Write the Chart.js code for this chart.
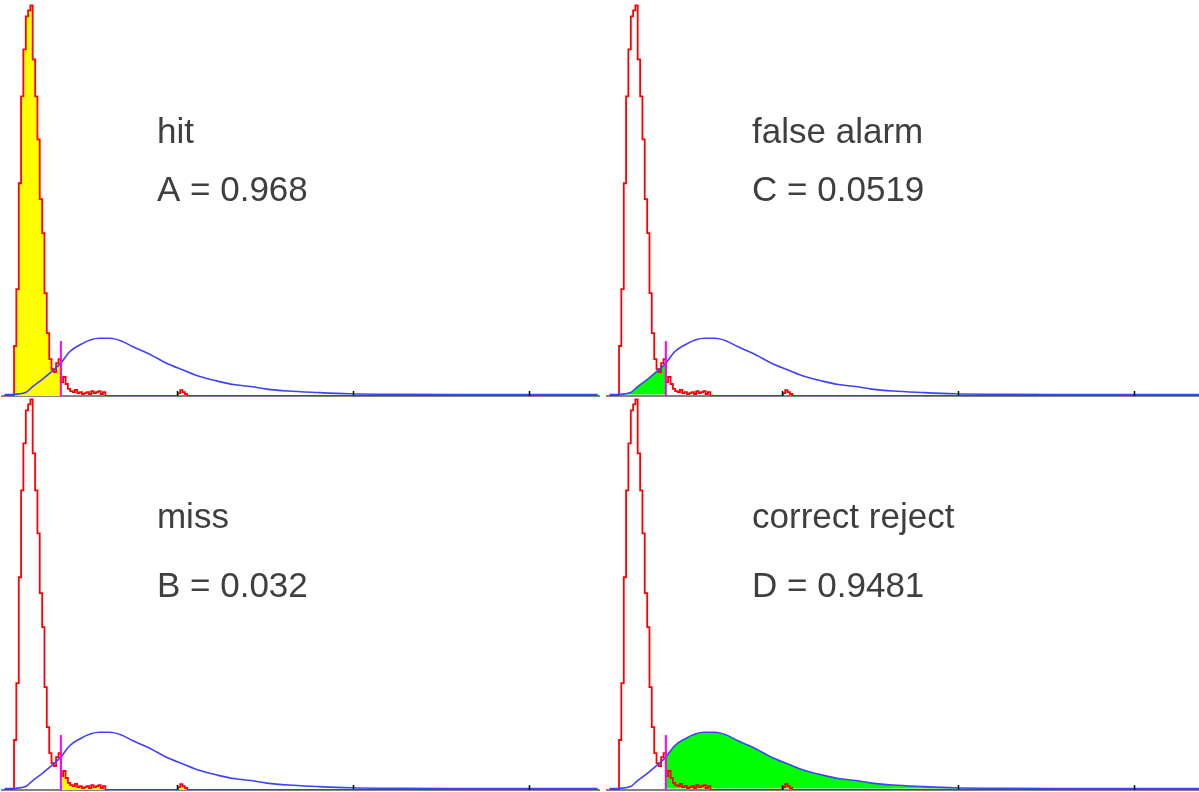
<!DOCTYPE html>
<html>
<head>
<meta charset="utf-8">
<title>signal detection outcomes</title>
<script src="https://cdn.jsdelivr.net/npm/chart.js@4.4.1/dist/chart.umd.min.js"></script>
<style>
  html, body { margin: 0; padding: 0; background: #fff; }
  #wrap { position: relative; width: 1199px; height: 792px; overflow: hidden; }
  #wrap canvas { position: absolute; }
</style>
</head>
<body>
<div id="wrap">
  <canvas id="hit" width="600" height="398" style="left:0;top:0"></canvas>
  <canvas id="falseAlarm" width="600" height="398" style="left:605px;top:0"></canvas>
  <canvas id="miss" width="600" height="398" style="left:0;top:394px"></canvas>
  <canvas id="correctReject" width="600" height="398" style="left:605px;top:394px"></canvas>
</div>
<script>
// red histogram: bin left edges and bar heights
const histEdges = [0.02, 0.074, 0.087, 0.101, 0.114, 0.127, 0.141, 0.154, 0.167, 0.180,
  0.194, 0.207, 0.220, 0.234, 0.247, 0.260, 0.274, 0.287, 0.300, 0.313,
  0.327, 0.340, 0.353, 0.367, 0.380, 0.393, 0.407, 0.420, 0.433, 0.446,
  0.460, 0.473, 0.486, 0.500, 0.513, 0.526, 0.540, 0.553, 0.566, 0.579,
  0.593, 1.005, 1.018, 1.031, 1.045, 1.058, 3.39];
const histHeights = [0, 0.505, 1.08, 2.149, 3.027, 3.502, 3.835, 3.895, 3.945, 3.401,
  3.027, 2.593, 1.988, 1.645, 1.039, 0.636, 0.373, 0.272, 0.242, 0.333,
  0.373, 0.141, 0.192, 0.121, 0.071, 0.05, 0.04, 0.061, 0.03, 0.04,
  0.02, 0.03, 0.04, 0.02, 0.05, 0.03, 0.04, 0.05, 0.02, 0.04,
  0, 0.03, 0.06, 0.04, 0.02, 0, 0];

// blue density curve
const curveX = [0.02, 0.08, 0.14, 0.18, 0.24, 0.30, 0.34, 0.39, 0.45, 0.51,
  0.56, 0.62, 0.68, 0.75, 0.85, 0.94, 1.03, 1.13, 1.23, 1.32,
  1.42, 1.51, 1.63, 1.80, 1.98, 2.27, 2.55, 3.39];
const curveY = [0, 0.003, 0.02, 0.081, 0.161, 0.252, 0.318, 0.434, 0.505, 0.555,
  0.570, 0.570, 0.545, 0.484, 0.404, 0.318, 0.252, 0.182, 0.136, 0.101,
  0.081, 0.055, 0.035, 0.02, 0.008, 0.002, 0, 0];

// decision criterion and the height of its marker
const threshold = 0.34;
const markerTop = 0.555;
const axisTicks = [1, 2, 3];

const titles = ["hit", "false alarm", "miss", "correct reject"];
const letters = ["A", "C", "B", "D"];
const rates = [0.968, 0.0519, 0.032, 0.9481];

const panels = [
  { id: "hit", shade: "hist", side: "left", color: "#ffff00", textX: 0.886, textY: [2.56, 1.97] },
  { id: "falseAlarm", shade: "curve", side: "left", color: "#00ff00", textX: 0.83, textY: [2.56, 1.97] },
  { id: "miss", shade: "hist", side: "right", color: "#ffff00", textX: 0.886, textY: [2.65, 1.95] },
  { id: "correctReject", shade: "curve", side: "right", color: "#00ff00", textX: 0.83, textY: [2.65, 1.95] },
];

function histPoints() {
  return histEdges.map((x, i) => ({ x: x, y: histHeights[i] }));
}

function curvePoints() {
  return curveX.map((x, i) => ({ x: x, y: curveY[i] }));
}

// part of the step histogram on one side of the criterion
function histPart(side) {
  const pts = histPoints();
  let cur = 0;
  pts.forEach(p => { if (p.x <= threshold) cur = p.y; });
  if (side === "left") {
    const out = pts.filter(p => p.x < threshold);
    out.push({ x: threshold, y: 0 });
    return out;
  }
  return [{ x: threshold, y: cur }].concat(pts.filter(p => p.x > threshold));
}

function curvePart(side) {
  return curvePoints().filter(p => side === "left" ? p.x <= threshold : p.x >= threshold);
}

// axis line, inward tick marks and the two text lines
const panelDecor = {
  id: "panelDecor",
  beforeDatasetsDraw(chart) {
    const { ctx, chartArea } = chart;
    const y0 = chart.scales.y.getPixelForValue(0);
    ctx.save();
    ctx.strokeStyle = "#5a5a5a";
    ctx.lineWidth = 1.5;
    ctx.beginPath();
    ctx.moveTo(chartArea.left, y0);
    ctx.lineTo(chartArea.right, y0);
    ctx.stroke();
    ctx.restore();
  },
  afterDatasetsDraw(chart, args, opts) {
    const { ctx } = chart;
    const xs = chart.scales.x;
    const ys = chart.scales.y;
    const y0 = ys.getPixelForValue(0);
    ctx.save();
    ctx.strokeStyle = "#000";
    ctx.lineWidth = 1.5;
    axisTicks.forEach(t => {
      const px = Math.round(xs.getPixelForValue(t)) + 0.5;
      ctx.beginPath();
      ctx.moveTo(px, y0);
      ctx.lineTo(px, y0 - 5);
      ctx.stroke();
    });
    ctx.fillStyle = "#3f3f3f";
    ctx.font = '35px "Liberation Sans", Arial, sans-serif';
    ctx.textBaseline = "alphabetic";
    ctx.textAlign = "left";
    const tx = xs.getPixelForValue(opts.textX);
    ctx.fillText(opts.title, tx, ys.getPixelForValue(opts.textY[0]));
    ctx.fillText(opts.label, tx, ys.getPixelForValue(opts.textY[1]));
    ctx.restore();
  }
};

panels.forEach((p, i) => {
  const isHist = p.shade === "hist";
  new Chart(document.getElementById(p.id), {
    type: "line",
    data: {
      datasets: [
        {
          // shaded region
          data: isHist ? histPart(p.side) : curvePart(p.side),
          stepped: isHist,
          cubicInterpolationMode: "monotone",
          yAxisID: isHist ? "y" : "y2",
          backgroundColor: p.color,
          borderWidth: 0,
          fill: "origin",
          order: 4,
        },
        {
          data: histPoints(),
          stepped: true,
          yAxisID: "y",
          borderColor: "#ff0000",
          borderWidth: 1.8,
          fill: false,
          order: 3,
        },
        {
          data: curvePoints(),
          cubicInterpolationMode: "monotone",
          yAxisID: "y2",
          borderColor: "rgb(64,64,255)",
          borderWidth: 1.6,
          fill: false,
          order: 2,
        },
        {
          data: [{ x: threshold, y: 0 }, { x: threshold, y: markerTop }],
          yAxisID: "y",
          borderColor: "#ff00ff",
          borderWidth: 2,
          fill: false,
          order: 1,
        },
      ],
    },
    options: {
      responsive: false,
      animation: false,
      layout: { padding: { left: 1, right: 0, top: 0, bottom: 2 } },
      elements: { point: { radius: 0 } },
      scales: {
        x: { type: "linear", min: 0, max: 3.403, display: false },
        y: { min: 0, max: 4, display: false },
        y2: { min: -0.015, max: 4, display: false },
      },
      plugins: {
        legend: { display: false },
        tooltip: { enabled: false },
        panelDecor: {
          title: titles[i],
          label: letters[i] + " = " + rates[i],
          textX: p.textX,
          textY: p.textY,
        },
      },
    },
    plugins: [panelDecor],
  });
});
</script>
</body>
</html>
